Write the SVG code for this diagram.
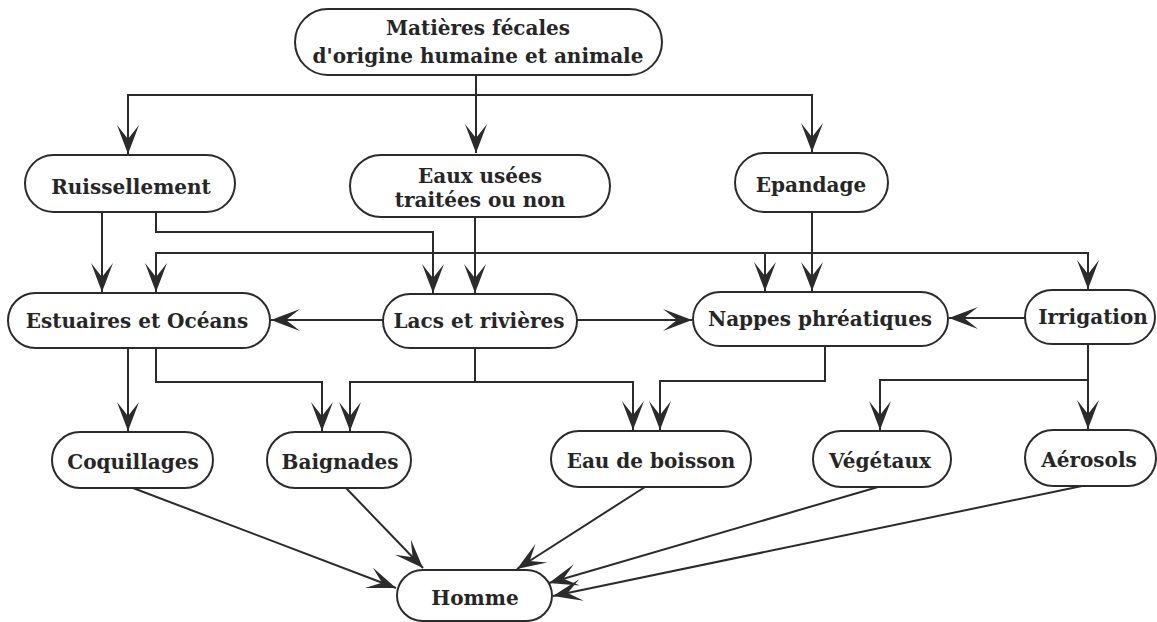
<svg xmlns="http://www.w3.org/2000/svg" width="1157" height="622" viewBox="0 0 1157 622">
  <style>
    .node rect { fill: #ffffff; stroke: #2b2b2b; stroke-width: 2; }
    .node text { font-family: "DejaVu Serif", "Liberation Serif", serif; font-weight: bold; font-size: 20px; fill: #262626; text-anchor: middle; }
    .edge { fill: none; stroke: #2b2b2b; stroke-width: 2; marker-end: url(#barb); }
  </style>
  <defs>
    <!-- barbed arrowhead, tip at the path end -->
    <marker id="barb" viewBox="-32 -13 34 26" refX="0" refY="0" markerWidth="34" markerHeight="26" markerUnits="userSpaceOnUse" orient="auto">
      <path d="M0,0 Q-13,-5 -29,-11 L-15,0 L-29,11 Q-13,5 0,0 Z" fill="#2b2b2b"/>
    </marker>
  </defs>
  <rect width="1157" height="622" fill="#ffffff"/>

  <g id="connectors">
    <!-- from the source -->
    <path class="edge" d="M476,75 V153"/>
    <path class="edge" d="M476,95 H128 V154"/>
    <path class="edge" d="M476,95 H812 V152"/>
    <!-- runoff -->
    <path class="edge" d="M102,212 V292"/>
    <path class="edge" d="M156,212 V232 H433 V293"/>
    <!-- waste water -->
    <path class="edge" d="M475,217 V293"/>
    <path class="edge" d="M475,253 H156 V292"/>
    <path class="edge" d="M475,253 H765 V291"/>
    <path class="edge" d="M765,253 H1088 V289"/>
    <!-- spreading -->
    <path class="edge" d="M812,212 V291"/>
    <!-- lakes and rivers sideways -->
    <path class="edge" d="M383,320 H271"/>
    <path class="edge" d="M577,320 H692"/>
    <!-- irrigation to groundwater -->
    <path class="edge" d="M1025,318 H949"/>
    <!-- row 2 to row 3 -->
    <path class="edge" d="M128,348 V431"/>
    <path class="edge" d="M156,348 V382 H322 V431"/>
    <path class="edge" d="M475,348 V382 H350 V431"/>
    <path class="edge" d="M475,382 H633 V430"/>
    <path class="edge" d="M825,346 V381 H660 V430"/>
    <path class="edge" d="M1088,344 V380 H880 V430"/>
    <path class="edge" d="M1088,380 V429"/>
    <!-- exposure routes -->
    <path class="edge" d="M133,488 L396,588"/>
    <path class="edge" d="M346,488 L423,568"/>
    <path class="edge" d="M645,487 L517,569"/>
    <path class="edge" d="M878,487 L549,583"/>
    <path class="edge" d="M1082,486 L553,596"/>
  </g>

  <g id="n-source" class="node">
    <rect x="295" y="9" width="367" height="66" rx="33"/>
    <text x="478" y="35">Matières fécales</text>
    <text x="478" y="63">d'origine humaine et animale</text>
  </g>
  <g id="n-ruissellement" class="node">
    <rect x="25" y="155" width="210" height="57" rx="28.5"/>
    <text x="131" y="194">Ruissellement</text>
  </g>
  <g id="n-eaux-usees" class="node">
    <rect x="350" y="155" width="260" height="62" rx="31"/>
    <text x="480" y="183">Eaux usées</text>
    <text x="480" y="207">traitées ou non</text>
  </g>
  <g id="n-epandage" class="node">
    <rect x="735" y="153" width="153" height="59" rx="29.5"/>
    <text x="811" y="192">Epandage</text>
  </g>
  <g id="n-estuaires" class="node">
    <rect x="8" y="293" width="262" height="55" rx="27.5"/>
    <text x="137" y="328">Estuaires et Océans</text>
  </g>
  <g id="n-lacs" class="node">
    <rect x="383" y="294" width="194" height="54" rx="27"/>
    <text x="479" y="328">Lacs et rivières</text>
  </g>
  <g id="n-nappes" class="node">
    <rect x="693" y="292" width="255" height="54" rx="27"/>
    <text x="820" y="326">Nappes phréatiques</text>
  </g>
  <g id="n-irrigation" class="node">
    <rect x="1025" y="290" width="130" height="54" rx="27"/>
    <text x="1093" y="324">Irrigation</text>
  </g>
  <g id="n-coquillages" class="node">
    <rect x="52" y="432" width="161" height="56" rx="28"/>
    <text x="133" y="469">Coquillages</text>
  </g>
  <g id="n-baignades" class="node">
    <rect x="267" y="432" width="144" height="56" rx="28"/>
    <text x="340" y="469">Baignades</text>
  </g>
  <g id="n-eau-boisson" class="node">
    <rect x="551" y="431" width="200" height="56" rx="28"/>
    <text x="651" y="468">Eau de boisson</text>
  </g>
  <g id="n-vegetaux" class="node">
    <rect x="813" y="431" width="138" height="56" rx="28"/>
    <text x="880" y="468">Végétaux</text>
  </g>
  <g id="n-aerosols" class="node">
    <rect x="1025" y="430" width="131" height="56" rx="28"/>
    <text x="1089" y="467">Aérosols</text>
  </g>
  <g id="n-homme" class="node">
    <rect x="397" y="570" width="155" height="51" rx="25.5"/>
    <text x="475" y="605">Homme</text>
  </g>
</svg>
